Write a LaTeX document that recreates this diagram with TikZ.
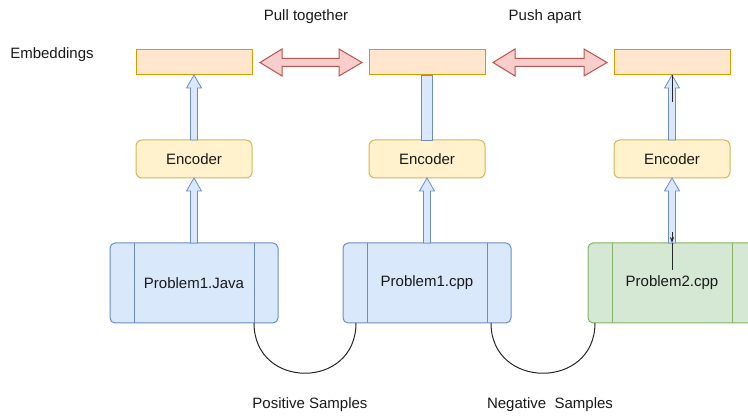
\documentclass[tikz,border=0pt]{standalone}
\usepackage{fontspec}
\setmainfont{Liberation Sans}
\usetikzlibrary{positioning, calc, arrows.meta}

\definecolor{embfill}{HTML}{FFE6CC}
\definecolor{embline}{HTML}{D79B00}
\definecolor{encfill}{HTML}{FFF2CC}
\definecolor{encline}{HTML}{D6B656}
\definecolor{bluefill}{HTML}{DAE8FC}
\definecolor{blueline}{HTML}{6C8EBF}
\definecolor{greenfill}{HTML}{D5E8D4}
\definecolor{greenline}{HTML}{82B366}
\definecolor{pinkfill}{HTML}{F8CECC}
\definecolor{pinkline}{HTML}{B85450}

\tikzset{sample/.style 2 args={rectangle, rounded corners=5pt, minimum width=168pt, minimum height=80pt, inner sep=0pt, outer sep=0pt, fill=#1, draw=#2, line width=1pt,
    path picture={\draw[#2, line width=1pt] ([xshift=24pt]path picture bounding box.north west) -- ([xshift=24pt]path picture bounding box.south west)
      ([xshift=-24pt]path picture bounding box.north east) -- ([xshift=-24pt]path picture bounding box.south east);}}}

\begin{document}
\begin{tikzpicture}[x=1pt, y=1pt, node distance=65pt, >=Stealth, font=\fontsize{15}{18}\selectfont, text=black!90]
      \tikzstyle{embedding} = [rectangle, minimum width=116pt, minimum height=25pt, inner sep=0pt, outer sep=0pt, draw=embline, fill=embfill, line width=1pt]
      \tikzstyle{encoder} = [rectangle, rounded corners=6pt, minimum width=116pt, minimum height=38pt, inner sep=0pt, outer sep=0pt, draw=encline, fill=encfill, line width=1pt]
      \tikzstyle{hollow} = [draw=blueline, fill=bluefill, line width=0.8pt, to path={($(\tikztostart)+(-3.5,0)$) -- ($(\tikztotarget)+(-3.5,-13)$) -- ($(\tikztotarget)+(-7.5,-13)$) -- (\tikztotarget) -- ($(\tikztotarget)+(7.5,-13)$) -- ($(\tikztotarget)+(3.5,-13)$) -- ($(\tikztostart)+(3.5,0)$) -- cycle}]
      \tikzstyle{bar} = [draw=blueline, fill=bluefill, line width=0.8pt, to path={($(\tikztostart)+(-5.5,0)$) rectangle ($(\tikztotarget)+(5.5,0)$)}]
      \tikzstyle{dbl} = [draw=pinkline, fill=pinkfill, line width=1pt, to path={($(\tikztostart)+(8,0)$) -- ++(22,13.5) -- ++(0,-9.5) -- ($(\tikztotarget)+(-30,4)$) -- ++(0,9.5) -- ($(\tikztotarget)+(-7,0)$) -- ++(-23,-13.5) -- ++(0,9.5) -- ($(\tikztostart)+(30,-4)$) -- ++(0,-9.5) -- cycle}]
      \tikzstyle{link} = [line width=1pt, black!85]

      \useasboundingbox (0,0) rectangle (748,417);

      \node (emb1) [embedding] at (194,354.5) {};
      \node (emb2) [embedding, right=117pt of emb1] {};
      \node (emb3) [embedding, right=129pt of emb2] {};

      \node (enc1) [encoder, below= of emb1] {Encoder};
      \node (enc2) [encoder, below= of emb2] {Encoder};
      \node (enc3) [encoder, below= of emb3] {Encoder};

      \node (prob1) [sample={bluefill}{blueline}, below= of enc1] {Problem1.Java};
      \node (prob2) [sample={bluefill}{blueline}, below= of enc2] {Problem1.cpp};
      \node (prob3) [sample={greenfill}{greenline}, below= of enc3] {Problem2.cpp};

      \draw [dbl] (emb1.east) to (emb2.west);
      \draw [dbl] (emb2.east) to (emb3.west);

      \draw [hollow] (enc1.north) to (emb1.south);
      \draw [hollow] (prob1.north) to (enc1.south);
      \draw [bar] (emb2.south) to (enc2.north);
      \draw [hollow] (prob2.north) to (enc2.south);
      \draw [hollow] (enc3.north) to (emb3.south);
      \draw [hollow] (prob3.north) to (enc3.south);

      % stray edges on the negative sample
      \coordinate (tail3) at ([yshift=-27pt]emb3.south);
      \coordinate (from3) at ([yshift=11pt]prob3.north);
      \coordinate (into3) at ([yshift=-27pt]prob3.north);
      \draw [link] (tail3) -- (emb3.south);
      \draw [link, -{Stealth[length=6pt, width=4pt]}] (from3) -- (prob3.north);
      \draw [link] (prob3.north) -- (into3);

      \draw [link] ([xshift=-24pt]prob1.south east) .. controls +(0,-67) and +(0,-67) .. ([xshift=13pt]prob2.south west);
      \draw [link] ([xshift=-20pt]prob2.south east) .. controls +(0,-67) and +(0,-67) .. ([xshift=7pt]prob3.south west);

      \node (embl) at (52,362) {Embeddings};
      \node (pull) at (306,400) {Pull together};
      \node (push) at (545,400) {Push apart};
      \node (pos) at (310,12) {Positive Samples};
      \node (neg) at (550,12) {Negative\ \ Samples};

    \end{tikzpicture}
\end{document}
